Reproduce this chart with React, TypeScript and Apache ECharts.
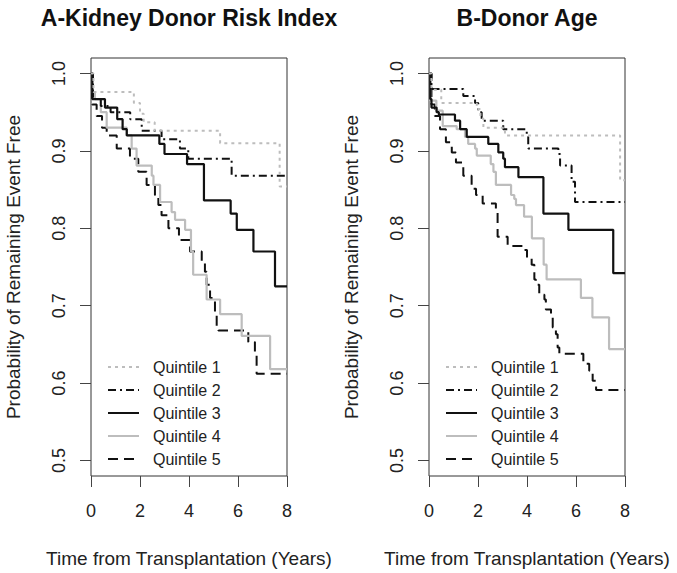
import React, { useEffect, useRef } from "react";
import * as echarts from "echarts";

// Panel A: Kidney Donor Risk Index quintiles  [time (years), survival]
const kdriQ1: [number, number][] = [[0, 1], [0.1, 0.976], [1.75, 0.962], [2.0, 0.948], [2.15, 0.937], [2.6, 0.926], [5.27, 0.91], [7.7, 0.854], [8, 0.854]];
const kdriQ2: [number, number][] = [[0, 1], [0.08, 0.967], [0.4, 0.958], [0.8, 0.95], [1.6, 0.941], [2.07, 0.926], [2.88, 0.915], [3.63, 0.903], [3.97, 0.89], [5.74, 0.868], [8, 0.868]];
const kdriQ3: [number, number][] = [[0, 1], [0.05, 0.967], [0.57, 0.956], [1.07, 0.941], [1.29, 0.928], [1.46, 0.92], [2.79, 0.909], [3.0, 0.896], [3.92, 0.883], [4.61, 0.836], [5.7, 0.819], [5.95, 0.798], [6.63, 0.77], [7.51, 0.725], [8, 0.725]];
const kdriQ4: [number, number][] = [[0, 1], [0.05, 0.975], [0.16, 0.967], [0.4, 0.95], [0.64, 0.93], [1.46, 0.92], [1.66, 0.903], [1.86, 0.881], [2.48, 0.868], [2.55, 0.856], [2.82, 0.834], [3.29, 0.821], [3.43, 0.811], [3.84, 0.798], [4.08, 0.77], [4.17, 0.74], [4.72, 0.708], [5.27, 0.689], [6.15, 0.661], [7.31, 0.618], [8, 0.618]];
const kdriQ5: [number, number][] = [[0, 1], [0.05, 0.96], [0.23, 0.945], [0.45, 0.93], [0.64, 0.92], [1.05, 0.903], [1.59, 0.89], [1.93, 0.873], [2.27, 0.856], [2.61, 0.843], [2.75, 0.83], [2.88, 0.817], [3.16, 0.8], [3.59, 0.785], [4.04, 0.77], [4.52, 0.757], [4.65, 0.744], [4.72, 0.727], [4.86, 0.71], [5.06, 0.689], [5.13, 0.672], [5.2, 0.668], [6.42, 0.653], [6.69, 0.64], [6.76, 0.612], [8, 0.612]];

// Panel B: Donor Age quintiles
const ageQ1: [number, number][] = [[0, 1], [0.1, 0.979], [0.5, 0.962], [1.95, 0.954], [2.1, 0.942], [2.22, 0.93], [3.1, 0.92], [7.8, 0.862], [8, 0.862]];
const ageQ2: [number, number][] = [[0, 1], [0.1, 0.98], [1.4, 0.971], [1.88, 0.962], [2.01, 0.95], [2.15, 0.939], [3.03, 0.928], [3.99, 0.918], [4.05, 0.903], [5.28, 0.896], [5.35, 0.881], [5.82, 0.86], [5.96, 0.834], [8, 0.834]];
const ageQ3: [number, number][] = [[0, 1], [0.05, 0.967], [0.1, 0.956], [0.31, 0.95], [0.4, 0.947], [1.06, 0.939], [1.27, 0.928], [1.54, 0.918], [2.42, 0.909], [2.83, 0.898], [3.03, 0.89], [3.1, 0.879], [3.65, 0.866], [4.67, 0.819], [5.69, 0.798], [7.52, 0.742], [8, 0.742]];
const ageQ4: [number, number][] = [[0, 1], [0.05, 0.965], [0.3, 0.952], [0.56, 0.932], [1.13, 0.928], [1.47, 0.918], [1.6, 0.909], [1.88, 0.903], [1.95, 0.894], [2.52, 0.883], [2.63, 0.873], [2.73, 0.856], [3.35, 0.843], [3.48, 0.838], [3.55, 0.83], [3.88, 0.815], [4.2, 0.787], [4.68, 0.753], [4.8, 0.734], [6.2, 0.71], [6.67, 0.685], [7.35, 0.644], [8, 0.644]];
const ageQ5: [number, number][] = [[0, 1], [0.1, 0.96], [0.24, 0.945], [0.45, 0.928], [0.69, 0.911], [0.93, 0.898], [1.1, 0.885], [1.4, 0.868], [1.74, 0.851], [1.92, 0.843], [2.19, 0.832], [2.73, 0.821], [2.8, 0.789], [3.21, 0.777], [3.92, 0.772], [4.0, 0.762], [4.19, 0.753], [4.3, 0.734], [4.36, 0.727], [4.5, 0.714], [4.71, 0.708], [4.77, 0.695], [4.98, 0.685], [5.05, 0.672], [5.18, 0.663], [5.25, 0.646], [5.32, 0.638], [6.3, 0.625], [6.54, 0.616], [6.68, 0.603], [6.82, 0.591], [8, 0.591]];

const seriesNames = ["Quintile 1", "Quintile 2", "Quintile 3", "Quintile 4", "Quintile 5"];
const panelTitles = ["A-Kidney Donor Risk Index", "B-Donor Age"];
const yTicks = [0.5, 0.6, 0.7, 0.8, 0.9, 1.0];
const xTicks = [0, 2, 4, 6, 8];
const xTitle = "Time from Transplantation (Years)";
const yTitle = "Probability of Remaining Event Free";

const FONT = "'Liberation Sans', Arial, Helvetica, sans-serif";
const GRAY = "#bdbdbd";
const BLACK = "#111111";
const lineStyles = [
  { color: GRAY, width: 2, type: [3, 4] as any },
  { color: BLACK, width: 2, type: [8, 4, 2, 4] as any },
  { color: BLACK, width: 2.2, type: "solid" as any },
  { color: GRAY, width: 2.2, type: "solid" as any },
  { color: BLACK, width: 2, type: [10, 6] as any },
];

const panels = [
  { left: 91, data: [kdriQ1, kdriQ2, kdriQ3, kdriQ4, kdriQ5] },
  { left: 429, data: [ageQ1, ageQ2, ageQ3, ageQ4, ageQ5] },
];

export default function App() {
  const ref = useRef<HTMLDivElement>(null);
  useEffect(() => {
    if (!ref.current) return;
    const chart = echarts.init(ref.current, undefined, { renderer: "svg" });
    const gridW = 196;
    const gridTop = 58;
    const gridH = 421;
    const grids = panels.map((p) => ({
      left: p.left,
      top: gridTop,
      width: gridW,
      height: gridH,
      show: true,
      borderColor: "#333",
      borderWidth: 1,
      containLabel: false,
    }));
    const xAxes = panels.map((_, i) => ({
      type: "value",
      gridIndex: i,
      min: 0,
      max: 8,
      interval: 2,
      name: xTitle,
      nameLocation: "middle",
      nameGap: 73,
      nameTextStyle: { fontSize: 19, color: "#222", fontFamily: FONT },
      axisLine: { show: false },
      axisTick: { show: true, length: 11, lineStyle: { color: "#444", width: 1 }, customValues: xTicks },
      axisLabel: { fontSize: 18, color: "#222", fontFamily: FONT, margin: 26, customValues: xTicks },
      splitLine: { show: false },
    }));
    const yAxes = panels.map((_, i) => ({
      type: "value",
      gridIndex: i,
      min: 0.48,
      max: 1.02,
      name: yTitle,
      nameLocation: "middle",
      nameGap: 68,
      nameTextStyle: { fontSize: 19, color: "#222", fontFamily: FONT },
      axisLine: { show: false },
      axisTick: { show: true, length: 11, lineStyle: { color: "#444", width: 1 }, customValues: yTicks },
      axisLabel: {
        fontSize: 18,
        color: "#222",
        fontFamily: FONT,
        rotate: 90,
        margin: 23,
        customValues: yTicks,
        formatter: (v: number) => v.toFixed(1),
      },
      splitLine: { show: false },
    }));
    const series: any[] = [];
    panels.forEach((p, pi) => {
      p.data.forEach((d, si) => {
        series.push({
          type: "line",
          name: seriesNames[si],
          xAxisIndex: pi,
          yAxisIndex: pi,
          step: "end",
          symbol: "none",
          showSymbol: false,
          data: d,
          color: lineStyles[si].color,
          lineStyle: lineStyles[si],
          clip: true,
          z: 5 - si,
        });
      });
    });
    const legends = panels.map((p) => ({
      left: p.left + 16,
      top: 359,
      orient: "vertical",
      itemWidth: 31,
      itemHeight: 14,
      itemGap: 7,
      padding: 0,
      selectedMode: false,
      data: seriesNames,
      itemStyle: { opacity: 0 },
      textStyle: { fontSize: 16, color: "#222", fontFamily: FONT, padding: [0, 0, 0, 9] },
    }));
    const graphics = panels.map((p, i) => ({
      type: "text",
      x: p.left + gridW / 2,
      y: 18,
      style: {
        text: panelTitles[i],
        textAlign: "center",
        textVerticalAlign: "middle",
        font: `bold 23px ${FONT}`,
        fill: "#111",
      },
    }));
    chart.setOption({
      animation: false,
      backgroundColor: "#ffffff",
      grid: grids,
      xAxis: xAxes,
      yAxis: yAxes,
      legend: legends,
      series,
      graphic: graphics,
    } as any);
    return () => chart.dispose();
  }, []);
  return (
    <div
      ref={ref}
      style={{ position: "fixed", left: 0, top: 0, width: 677, height: 573, background: "#fff" }}
    />
  );
}
